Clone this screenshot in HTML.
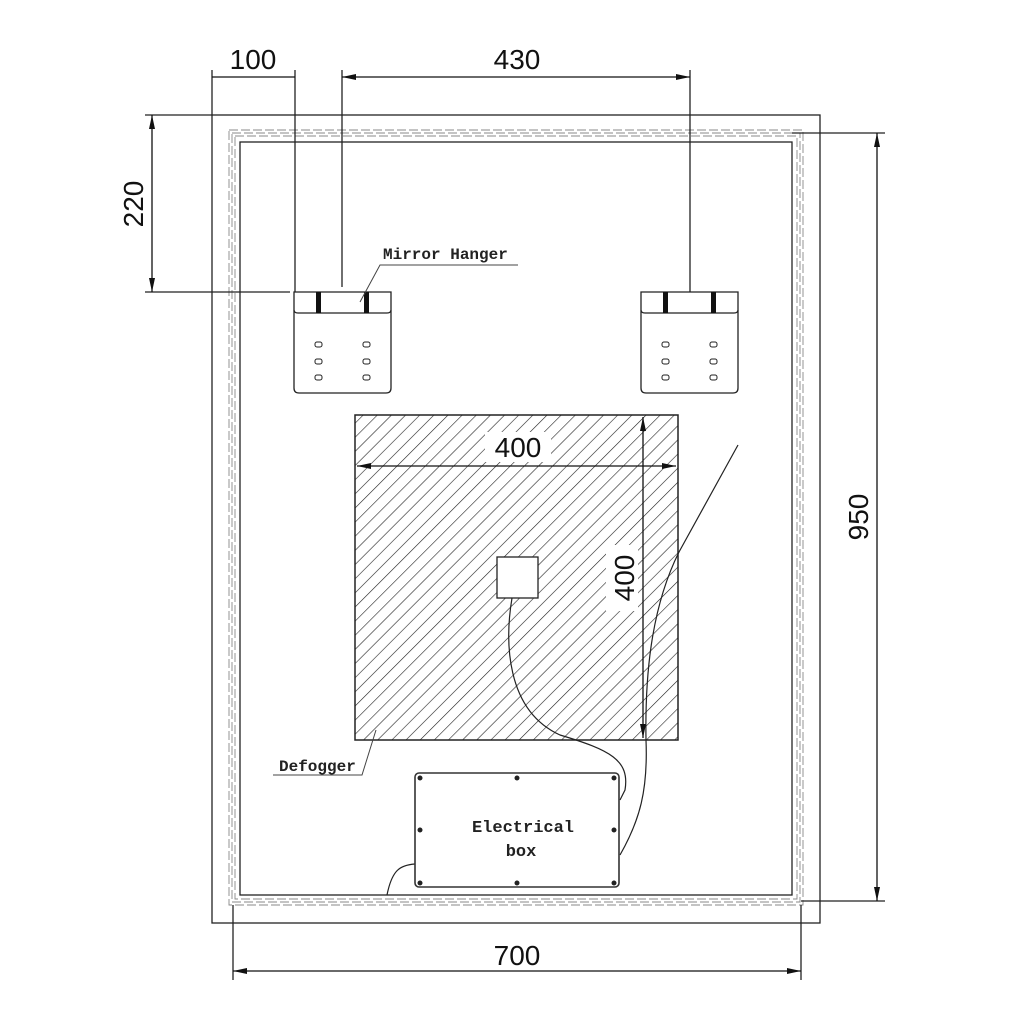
<!DOCTYPE html>
<html><head><meta charset="utf-8"><style>
html,body{margin:0;padding:0;background:#fff;}
svg{display:block;}
text{font-family:"Liberation Sans",sans-serif;fill:#111;}
.m{font-family:"Liberation Mono","DejaVu Sans Mono",monospace;fill:#222;font-weight:bold;}
</style></head><body>
<svg width="1024" height="1024" viewBox="0 0 1024 1024" xmlns="http://www.w3.org/2000/svg">
<defs>
<pattern id="h" patternUnits="userSpaceOnUse" width="10" height="10" patternTransform="rotate(45)">
<line x1="0" y1="0" x2="0" y2="10" stroke="#222" stroke-width="1.2"/>
</pattern>
<marker id="a" markerWidth="14" markerHeight="6" refX="14" refY="3" orient="auto" markerUnits="userSpaceOnUse">
<path d="M0,0 L14,3 L0,6 z" fill="#111"/></marker>
<marker id="b" markerWidth="14" markerHeight="6" refX="0" refY="3" orient="auto" markerUnits="userSpaceOnUse">
<path d="M14,0 L0,3 L14,6 z" fill="#111"/></marker>
</defs>
<g fill="none" stroke="#222" stroke-width="1.3">
<rect x="212" y="115" width="608" height="808"/>
<g stroke="#888" stroke-width="0.9" stroke-dasharray="9,3">
<rect x="229" y="130" width="574" height="775"/>
<rect x="232" y="133" width="568" height="769"/>
<rect x="235" y="136" width="562" height="763"/>
</g>
<rect x="240" y="142" width="552" height="753"/>
<line x1="212" y1="70" x2="212" y2="115"/>
<line x1="295" y1="70" x2="295" y2="292"/>
<line x1="342" y1="70" x2="342" y2="287"/>
<line x1="690" y1="70" x2="690" y2="292"/>
<line x1="145" y1="115" x2="212" y2="115"/>
<line x1="145" y1="292" x2="290" y2="292"/>
<line x1="233" y1="905" x2="233" y2="980"/>
<line x1="801" y1="905" x2="801" y2="980"/>
<line x1="792" y1="133" x2="885" y2="133"/>
<line x1="801" y1="901" x2="885" y2="901"/>
</g>
<g stroke="#111" stroke-width="1.3">
<line x1="212" y1="77" x2="295" y2="77"/>
<line x1="342" y1="77" x2="690" y2="77" marker-start="url(#b)" marker-end="url(#a)"/>
<line x1="152" y1="115" x2="152" y2="292" marker-start="url(#b)" marker-end="url(#a)"/>
<line x1="233" y1="971" x2="801" y2="971" marker-start="url(#b)" marker-end="url(#a)"/>
<line x1="877" y1="133" x2="877" y2="901" marker-start="url(#b)" marker-end="url(#a)"/>
</g>
<text x="253" y="69" font-size="28" text-anchor="middle">100</text>
<text x="517" y="69" font-size="28" text-anchor="middle">430</text>
<text x="517" y="965" font-size="28" text-anchor="middle">700</text>
<text transform="translate(143,204) rotate(-90)" font-size="28" text-anchor="middle">220</text>
<text transform="translate(868,517) rotate(-90)" font-size="28" text-anchor="middle">950</text>

<g id="hg" fill="none" stroke="#222" stroke-width="1.3">
<path d="M294,292 H391 V388 Q391,393 386,393 H299 Q294,393 294,388 Z"/>
<path d="M294,310 Q294,313 298,313 H387 Q391,313 391,310"/>
<rect x="316" y="292" width="5" height="21" fill="#111" stroke="none"/>
<rect x="364" y="292" width="5" height="21" fill="#111" stroke="none"/>
<g stroke-width="1">
<rect x="315" y="342" width="7" height="5" rx="2"/><rect x="315" y="359" width="7" height="5" rx="2"/><rect x="315" y="375" width="7" height="5" rx="2"/>
<rect x="363" y="342" width="7" height="5" rx="2"/><rect x="363" y="359" width="7" height="5" rx="2"/><rect x="363" y="375" width="7" height="5" rx="2"/>
</g>
</g>
<use href="#hg" transform="translate(347,0)"/>
<text x="383" y="259" font-size="16" class="m">Mirror Hanger</text>
<polyline points="518,265 380,265 360,302" fill="none" stroke="#444" stroke-width="1"/>

<rect x="355" y="415" width="323" height="325" fill="url(#h)" stroke="#222" stroke-width="1.5"/>
<rect x="497" y="557" width="41" height="41" fill="#fff" stroke="#222" stroke-width="1.3"/>
<rect x="485" y="432" width="66" height="30" fill="#fff"/>
<text x="518" y="457" font-size="28" text-anchor="middle">400</text>
<line x1="357" y1="466" x2="676" y2="466" stroke="#111" stroke-width="1.3" marker-start="url(#b)" marker-end="url(#a)"/>
<rect x="606" y="545" width="32" height="66" fill="#fff"/>
<text transform="translate(634,578) rotate(-90)" font-size="28" text-anchor="middle">400</text>
<line x1="643" y1="417" x2="643" y2="738" stroke="#111" stroke-width="1.3" marker-start="url(#b)" marker-end="url(#a)"/>
<g fill="none" stroke="#222" stroke-width="1.2">
<path d="M738,445 L679,552 C650,610 645,680 646,740 C648,790 640,820 620,855"/>
<path d="M512,598 C505,640 505,710 560,735 C610,750 630,760 625,790 L620,800"/>
<path d="M415,864 C400,865 392,870 387,895"/>
</g>
<text x="279" y="771" font-size="16" class="m">Defogger</text>
<polyline points="273,775 362,775 376,730" fill="none" stroke="#444" stroke-width="1"/>

<rect x="415" y="773" width="204" height="114" rx="4" fill="#fff" stroke="#333" stroke-width="1.6"/>
<g fill="#222">
<circle cx="420" cy="778" r="2.5"/><circle cx="517" cy="778" r="2.5"/><circle cx="614" cy="778" r="2.5"/>
<circle cx="420" cy="830" r="2.5"/><circle cx="614" cy="830" r="2.5"/>
<circle cx="420" cy="883" r="2.5"/><circle cx="517" cy="883" r="2.5"/><circle cx="614" cy="883" r="2.5"/>
</g>
<text x="523" y="832" font-size="17" class="m" text-anchor="middle">Electrical</text>
<text x="521" y="856" font-size="17" class="m" text-anchor="middle">box</text>
</svg>
</body></html>
